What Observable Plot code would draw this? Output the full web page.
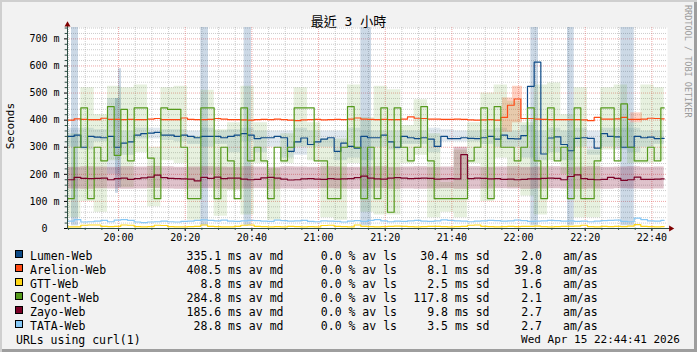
<!DOCTYPE html>
<html><head><meta charset="utf-8">
<script src="https://cdn.jsdelivr.net/npm/d3@7"></script>
<script src="https://cdn.jsdelivr.net/npm/@observablehq/plot@0.6"></script>
<style>
html,body{margin:0;padding:0;background:#fff}
#chart{position:relative;width:697px;height:352px;background:#f2f2f2;overflow:hidden;
  box-shadow: inset 2px 2px 0 #cfcfcf, inset -3px -3px 0 #9e9e9e;}
#chart svg{position:absolute;left:0;top:0}
.t{position:absolute;white-space:pre;font-family:"DejaVu Sans Mono",monospace;font-size:11.5px;line-height:14px;color:#000}
.sw{position:absolute;width:8px;height:8px;box-sizing:border-box;border:1px solid #000}
</style></head><body><div id="chart"></div>
<script>
// ---------- data (2-minute medians, ms) ----------
const targets = ["Lumen-Web","Arelion-Web","GTT-Web","Cogent-Web","Zayo-Web","TATA-Web"];
const lumen = [340,345,300,340,337,335,340,300,315,320,345,350,352,355,345,345,340,345,340,335,340,340,
  340,335,340,345,350,345,332,335,335,340,335,285,320,334,310,320,330,335,285,315,303,297,340,
  335,335,345,320,300,340,335,332,335,330,303,340,332,332,335,333,332,335,340,330,345,332,
  331,343,525,614,275,334,338,310,287,333,335,333,297,350,340,338,300,300,340,335,337,332,333];
const arelion = [400,405,403,402,402,407,403,403,402,403,402,402,404,406,402,402,402,408,403,402,402,403,
  406,404,402,402,401,400,402,403,402,404,402,400,398,401,402,403,401,402,403,402,404,408,404,
  403,402,403,402,402,404,412,407,406,404,404,403,403,404,403,401,400,401,402,400,410,455,
  478,406,406,404,403,402,402,402,402,402,401,398,410,404,404,405,410,403,403,404,407,406,405];
const gtt = [6,6,12,13,13,8,7,8,13,12,7,6,7,12,11,7,6,6,7,8,13,8,
  7,6,6,8,12,13,8,7,6,7,6,8,7,6,7,6,11,12,8,7,6,13,8,
  7,6,7,8,9,8,7,6,7,8,8,7,6,7,8,12,13,8,7,6,7,8,
  7,8,8,9,7,6,7,8,8,9,12,7,6,8,7,8,7,9,14,8,7,6,7];
const cogent = [110,300,445,110,300,250,450,270,440,250,445,445,260,110,445,440,440,300,110,110,445,445,
  110,300,250,110,445,250,300,250,110,300,250,300,445,445,445,250,250,110,110,300,450,300,110,
  300,110,445,60,445,300,250,300,450,250,110,110,110,110,110,250,300,445,110,450,300,300,
  250,300,445,250,110,445,250,300,110,445,110,110,250,445,445,250,460,300,250,250,300,250,445];
const zayo = [180,189,185,184,185,186,180,184,186,181,184,187,190,197,188,185,184,183,182,176,189,185,
  190,184,186,186,182,180,181,187,189,186,182,179,180,183,184,182,181,184,182,183,184,188,193,
  186,183,182,186,188,186,184,185,186,185,182,183,184,183,273,184,186,185,183,184,181,182,
  180,181,183,183,185,186,185,180,192,198,184,181,180,181,189,185,178,180,190,181,181,182,183];
const tata = [27,33,24,25,27,30,25,31,33,30,24,22,24,25,27,25,24,26,27,30,32,30,
  28,31,27,26,28,30,29,27,26,31,29,27,28,30,26,25,28,27,26,24,27,29,26,
  30,33,28,25,27,26,28,30,27,26,28,32,30,28,27,25,27,28,30,29,27,28,
  31,29,26,27,28,30,29,27,28,26,27,25,27,29,30,31,26,25,38,33,28,27,30];

// ---------- smoke (4-minute spread, ms) ----------
const cogentSmokeLo = [40,100,60,250,150,280,80,250,240,30,200, 45,140,50,240,30,240,300,250,40,30,240,
  60,50,50,240,270,40,60,40,240,100,260, 150,120,50,250,200,40,40,290,300,240,240,250];
const cogentSmokeHi = [350,520,420,525,520,530,300,520,525,340,510, 365,390,525,390,220,350,520,390,330,330,530,
  410,525,512,380,475,350,170,290,390,500,530, 470,390,530,537,420,520,290,520,530,390,530,520];
const lumenSmokeLo = [300,290,320,200,270,330,330,325,320,310,300, 310,280,320,280,300,260,270,300,300,250,260,
  250,300,290,310,310,280,320,320,320,310,300, 300,260,250,280,250,300,270,300,290,280,300,310];
const lumenSmokeHi = [370,370,365,480,360,370,370,365,365,360,370, 360,365,370,360,360,360,370,360,360,360,370,
  360,360,360,360,360,370,365,360,360,365,370, 360,380,360,370,360,370,360,370,370,370,360,360];
const zayoSmokeLo = [146,145,147,146,145,146,148,146,145,146,147, 146,145,146,147,145,146,145,146,147,146,145,
  146,147,145,146,145,146,147,145,145,146,147, 146,145,146,147,146,145,146,145,147,146,145,146];
const zayoSmokeHi = [226,228,227,226,228,227,229,228,226,227,228, 227,226,228,227,226,228,227,226,228,227,226,
  227,228,226,227,228,226,227,300,228,226,227, 228,226,227,228,226,227,228,226,227,228,226,227];
// Lumen loss/timeout columns (minutes after start)
const lumenSpikeStart = [1.2,14.4,15.3,40,53,88,139,150,166];
const lumenSpikeEnd   = [3.3,15.3,16.2,42.3,55.2,91.2,141.3,152,170];
const lumenSpikeLo    = [10,130,150,10,10,10,10,10,10];
const lumenSpikeHi    = [742,480,590,742,742,742,742,742,742];
// Arelion smoke patches
const arelionSmokeStart = [130.5,133.5,169];
const arelionSmokeEnd   = [133.5,136.5,172.5];
const arelionSmokeLo    = [355,390,390];
const arelionSmokeHi    = [482,525,427];

// ---------- legend statistics ----------
const avgMedian = [335.1,408.5,8.8,284.8,185.6,28.8];
const avgLoss   = [0.0,0.0,0.0,0.0,0.0,0.0];
const avgSd     = [30.4,8.1,2.5,117.8,9.8,3.5];
const amas      = [2.0,39.8,1.6,2.1,2.7,2.7];
const yTicks = [0,100,200,300,400,500,600,700];
const titleText = "最近 3 小時";
const footerLeft = "URLs using curl(1)";
const footerRight = "Wed Apr 15 22:44:41 2026";
const vendorText = "RRDTOOL / TOBI OETIKER";
const yLabel = "Seconds";

// ---------- styles ----------
const C = {lumen:"#0c4a87", arelion:"#ff4a14", gtt:"#ffd717", cogent:"#559a1c", zayo:"#7a0026", tata:"#86c8f6"};
const colors = [C.lumen, C.arelion, C.gtt, C.cogent, C.zayo, C.tata];

const start = new Date(Date.UTC(2026,3,15,19,44,41));
const at = m => new Date(+start + m*60000);
const SPAN = 180;

function lineRows(vals){
  const rows = vals.map((v,i)=>({t:at(i*2), v}));
  rows.push({t:at(vals.length*2-1), v:vals[vals.length-1]});
  return rows;
}
function bandRows(lo,hi){
  const rows = lo.map((l,i)=>({t:at(i*4), lo:l, hi:hi[i]}));
  rows.push({t:at(lo.length*4-1), lo:lo[lo.length-1], hi:hi[hi.length-1]});
  return rows;
}
function spanRows(s,e,lo,hi){ return s.map((d,i)=>({t1:at(d), t2:at(e[i]), lo:lo[i], hi:hi[i]})); }

const minorT = d3.utcMinute.every(5).range(start, at(SPAN)).filter(d => d.getUTCMinutes()%20 !== 0);
const majorT = d3.utcMinute.every(20).range(start, at(SPAN));
const minorY = d3.range(20, 742, 20).filter(v => v%100 !== 0);
const majorY = yTicks.filter(v => v > 0);
const allMinorT = d3.utcMinute.every(5).range(start, at(SPAN));

const gridMinor = {stroke:"#8f8f8f", strokeOpacity:0.45, strokeDasharray:"1,1"};
const gridMajor = {stroke:"#de5050", strokeOpacity:0.5, strokeDasharray:"1,1"};
const AXIS = "#2c4d43";

const svg = Plot.plot({
  width:697, height:245,
  marginLeft:67, marginRight:30, marginTop:27, marginBottom:17,
  style:{background:"transparent", fontFamily:"DejaVu Sans Mono", fontSize:"10px", color:"#000", overflow:"visible"},
  x:{type:"utc", domain:[start, at(SPAN)], ticks:majorT, tickFormat:d3.utcFormat("%H:%M"), tickSize:3, tickPadding:2, label:null},
  y:{domain:[0,742], ticks:yTicks, tickFormat:d => d===0 ? "0\u00a0\u00a0" : d + " m", tickSize:3, tickPadding:5, label:null},
  marks:[
    Plot.frame({fill:"white", stroke:"none"}),
    Plot.ruleX(minorT, gridMinor),
    Plot.ruleY(minorY, gridMinor),
    Plot.ruleX(majorT, gridMajor),
    Plot.ruleY(majorY, gridMajor),
    // smoke
    Plot.rect(spanRows(lumenSpikeStart,lumenSpikeEnd,lumenSpikeLo,lumenSpikeHi), {x1:"t1", x2:"t2", y1:"lo", y2:"hi", fill:C.lumen, fillOpacity:0.21}),
    Plot.areaY(bandRows(lumenSmokeLo,lumenSmokeHi), {x:"t", y1:"lo", y2:"hi", curve:"step-after", fill:C.lumen, fillOpacity:0.13}),
    Plot.rect(spanRows(arelionSmokeStart,arelionSmokeEnd,arelionSmokeLo,arelionSmokeHi), {x1:"t1", x2:"t2", y1:"lo", y2:"hi", fill:C.arelion, fillOpacity:0.25}),
    Plot.areaY(bandRows(cogentSmokeLo,cogentSmokeHi), {x:"t", y1:"lo", y2:"hi", curve:"step-after", fill:C.cogent, fillOpacity:0.14}),
    Plot.areaY(bandRows(zayoSmokeLo,zayoSmokeHi), {x:"t", y1:"lo", y2:"hi", curve:"step-after", fill:C.zayo, fillOpacity:0.24}),
    // medians
    Plot.line(lineRows(lumen),   {x:"t", y:"v", curve:"step-after", stroke:C.lumen, strokeWidth:1.2}),
    Plot.line(lineRows(arelion), {x:"t", y:"v", curve:"step-after", stroke:C.arelion, strokeWidth:1.2}),
    Plot.line(lineRows(gtt),     {x:"t", y:"v", curve:"step-after", stroke:C.gtt, strokeWidth:1.2}),
    Plot.line(lineRows(cogent),  {x:"t", y:"v", curve:"step-after", stroke:C.cogent, strokeWidth:1.2}),
    Plot.line(lineRows(zayo),    {x:"t", y:"v", curve:"step-after", stroke:C.zayo, strokeWidth:1.2}),
    Plot.line(lineRows(tata),    {x:"t", y:"v", curve:"step-after", stroke:C.tata, strokeWidth:1.2}),
    // axes lines, minor ticks and arrows
    Plot.ruleY(minorY, {x1:at(-0.7), x2:at(0), stroke:AXIS}),
    Plot.ruleX(allMinorT, {y1:-7, y2:0, stroke:AXIS}),
    Plot.ruleX([start], {y1:0, y2:752, stroke:AXIS}),
    Plot.ruleY([0], {x1:start, x2:at(181), stroke:AXIS}),
    Plot.dot([{t:start, v:752}], {x:"t", y:"v", symbol:"triangle", r:2.2, fill:"#7f0000", stroke:"none"}),
    Plot.dot([{t:at(181), v:0}], {x:"t", y:"v", symbol:"triangle", r:2.2, rotate:90, fill:"#7f0000", stroke:"none"})
  ]
});
const chart = document.getElementById("chart");
chart.appendChild(svg);

function addText(txt, css){
  const d = document.createElement("div");
  d.className = "t"; d.textContent = txt;
  Object.assign(d.style, css);
  chart.appendChild(d);
  return d;
}
// title
addText(titleText, {left:"0px", width:"697px", top:"14px", textAlign:"center", fontSize:"13px", lineHeight:"16px",
  fontFamily:'"DejaVu Sans Mono","Noto Sans CJK TC",monospace'});
// y label
addText(yLabel, {left:"4px", top:"103px", fontSize:"11px", lineHeight:"13px", writingMode:"vertical-rl", transform:"rotate(180deg)"});
// vendor text
addText(vendorText, {left:"683px", top:"5px", fontSize:"8.5px", lineHeight:"10px", writingMode:"vertical-rl", color:"#9a9a9a"});
// legend
targets.forEach((name,i) => {
  const top = 248.5 + 14*i;
  const sw = document.createElement("div");
  sw.className = "sw";
  Object.assign(sw.style, {left:"15px", top:(250+14*i)+"px", background:colors[i]});
  chart.appendChild(sw);
  addText(name, {left:"30px", top:top+"px"});
  addText(avgMedian[i].toFixed(1)+" ms av md", {right:(697-283.5)+"px", top:top+"px"});
  addText(avgLoss[i].toFixed(1)+" % av ls", {right:(697-397)+"px", top:top+"px"});
  addText(avgSd[i].toFixed(1)+" ms sd", {right:(697-489.5)+"px", top:top+"px"});
  addText(amas[i].toFixed(1), {right:(697-542)+"px", top:top+"px"});
  addText("am/as", {left:"563px", top:top+"px"});
});
addText(footerLeft, {left:"16px", top:(248.5+14*6)+"px"});
addText(footerRight, {right:"17px", top:"332.7px", fontSize:"11px"});
</script></body></html>
